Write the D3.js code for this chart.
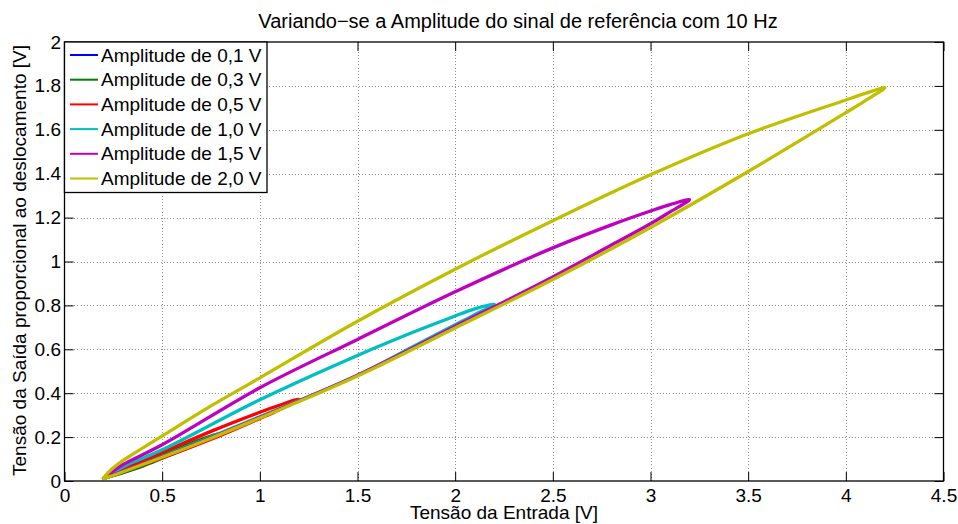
<!DOCTYPE html>
<html>
<head>
<meta charset="utf-8">
<script src="https://cdn.jsdelivr.net/npm/d3@7"></script>
<style>
  body { margin: 0; background: #fff; }
  text { font-family: "Liberation Sans", Arial, Helvetica, sans-serif; fill: #000; }
</style>
</head>
<body>
<svg id="chart" width="958" height="524"></svg>
<script>
// Hysteresis loops: input voltage (x) vs. displacement-proportional output (y).
// Each loop = rising branch up to the turning point, then the returning branch, points as [x, y].
const amplitudeLabels = ["Amplitude de 0,1 V", "Amplitude de 0,3 V", "Amplitude de 0,5 V",
                         "Amplitude de 1,0 V", "Amplitude de 1,5 V", "Amplitude de 2,0 V"];

const loop01 = [
  [0.20, 0.012], [0.30, 0.040], [0.40, 0.071],
  [0.30, 0.046], [0.20, 0.012]
];
const loop03 = [
  [0.20, 0.012], [0.40, 0.068], [0.50, 0.104], [0.60, 0.140], [0.70, 0.178], [0.80, 0.220],
  [0.70, 0.190], [0.60, 0.155], [0.50, 0.120], [0.40, 0.082], [0.20, 0.012]
];
const loop05 = [
  [0.20, 0.012], [0.50, 0.105], [0.75, 0.190], [1.00, 0.285], [1.10, 0.325], [1.20, 0.373],
  [1.10, 0.345], [1.00, 0.313], [0.75, 0.226], [0.50, 0.130], [0.30, 0.055], [0.20, 0.012]
];
const loop10 = [
  [0.20, 0.012], [0.50, 0.112], [1.00, 0.293], [1.50, 0.482], [1.80, 0.620], [2.00, 0.712], [2.10, 0.758], [2.20, 0.806],
  [2.10, 0.784], [2.00, 0.752], [1.80, 0.683], [1.50, 0.572], [1.00, 0.370], [0.50, 0.142],
  [0.30, 0.065], [0.24, 0.035], [0.20, 0.012]
];
const loop15 = [
  [0.20, 0.012], [0.30, 0.045], [0.50, 0.110], [1.00, 0.290], [1.50, 0.482], [2.00, 0.705],
  [2.50, 0.930], [2.80, 1.075], [3.00, 1.172], [3.10, 1.226], [3.20, 1.282],
  [3.10, 1.259], [3.00, 1.230], [2.80, 1.167], [2.50, 1.062], [2.00, 0.862], [1.50, 0.645],
  [1.00, 0.425], [0.50, 0.165], [0.30, 0.075], [0.24, 0.040], [0.20, 0.012]
];
const loop20 = [
  [0.20, 0.010], [0.30, 0.042], [0.50, 0.108], [0.75, 0.195], [1.00, 0.287], [1.50, 0.478],
  [2.00, 0.697], [2.50, 0.918], [3.00, 1.155], [3.50, 1.410], [4.00, 1.678], [4.10, 1.733], [4.20, 1.792],
  [4.10, 1.766], [4.00, 1.736], [3.50, 1.582], [3.00, 1.395], [2.50, 1.186], [2.00, 0.965],
  [1.50, 0.728], [1.00, 0.470], [0.75, 0.342], [0.50, 0.205], [0.35, 0.122],
  [0.30, 0.094], [0.25, 0.060], [0.21, 0.025], [0.20, 0.010]
];

const loops = [loop01, loop03, loop05, loop10, loop15, loop20];
const lineColors = ["#0000ff", "#008000", "#ff0000", "#00bfbf", "#bf00bf", "#bfbf00"];

const xTicks = [0, 0.5, 1, 1.5, 2, 2.5, 3, 3.5, 4, 4.5];
const yTicks = [0, 0.2, 0.4, 0.6, 0.8, 1, 1.2, 1.4, 1.6, 1.8, 2];

const titleText = "Variando\u2212se a Amplitude do sinal de referência com 10 Hz";
const xLabel = "Tensão da Entrada [V]";
const yLabel = "Tensão da Saída proporcional ao deslocamento [V]";

// Layout
const W = 958, H = 524;
const plot = { left: 64.5, right: 943.5, top: 42, bottom: 481 };
const fontSize = 19;
const tickLen = 9;

const svg = d3.select("#chart");
svg.append("rect").attr("width", W).attr("height", H).attr("fill", "#fff");

const x = d3.scaleLinear().domain([0, 4.5]).range([plot.left, plot.right]);
const y = d3.scaleLinear().domain([0, 2]).range([plot.bottom, plot.top]);
const fmt = d3.format("~g");

// Dotted grid
const grid = svg.append("g").attr("stroke", "#8c8c8c").attr("stroke-width", 1)
  .attr("stroke-dasharray", "1,2.2").attr("shape-rendering", "crispEdges");
grid.selectAll(".gx").data(xTicks.slice(1, -1)).join("line")
  .attr("x1", d => Math.round(x(d)) + 0.5).attr("x2", d => Math.round(x(d)) + 0.5)
  .attr("y1", plot.top).attr("y2", plot.bottom);
grid.selectAll(".gy").data(yTicks.slice(1, -1)).join("line")
  .attr("y1", d => Math.round(y(d)) + 0.5).attr("y2", d => Math.round(y(d)) + 0.5)
  .attr("x1", plot.left).attr("x2", plot.right);

// Loops, smallest amplitude first so the largest sits on top
const line = d3.line().x(d => x(d[0])).y(d => y(d[1])).curve(d3.curveCatmullRom.alpha(0.5));
svg.append("g").selectAll("path").data(loops).join("path")
  .attr("d", line)
  .attr("fill", "none")
  .attr("stroke", (d, i) => lineColors[i])
  .attr("stroke-width", 3.3)
  .attr("stroke-linejoin", "round")
  .attr("stroke-linecap", "round");

// Axes with inward ticks on all four sides
function styleAxis(g) {
  g.select(".domain").remove();
  g.selectAll(".tick line").attr("stroke", "#000").attr("stroke-width", 1);
  g.selectAll(".tick text").attr("font-size", fontSize).attr("font-family", null).attr("fill", "#000");
  g.attr("font-family", null);
}
svg.append("g").attr("transform", `translate(0,${plot.bottom})`)
  .call(d3.axisBottom(x).tickValues(xTicks).tickFormat(fmt).tickSizeInner(-tickLen).tickSizeOuter(0).tickPadding(8))
  .call(styleAxis);
svg.append("g").attr("transform", `translate(0,${plot.top})`)
  .call(d3.axisTop(x).tickValues(xTicks).tickFormat("").tickSizeInner(-tickLen).tickSizeOuter(0))
  .call(styleAxis);
svg.append("g").attr("transform", `translate(${plot.left},0)`)
  .call(d3.axisLeft(y).tickValues(yTicks).tickFormat(fmt).tickSizeInner(-tickLen).tickSizeOuter(0).tickPadding(3.5))
  .call(styleAxis);
svg.append("g").attr("transform", `translate(${plot.right},0)`)
  .call(d3.axisRight(y).tickValues(yTicks).tickFormat("").tickSizeInner(-tickLen).tickSizeOuter(0))
  .call(styleAxis);

// Axes box
svg.append("rect")
  .attr("x", plot.left).attr("y", plot.top)
  .attr("width", plot.right - plot.left).attr("height", plot.bottom - plot.top)
  .attr("fill", "none").attr("stroke", "#000").attr("stroke-width", 1.3);

// Title and axis labels
svg.append("text").attr("x", 518).attr("y", 27.5).attr("text-anchor", "middle")
  .attr("font-size", 20).text(titleText);
svg.append("text").attr("x", (plot.left + plot.right) / 2).attr("y", 519).attr("text-anchor", "middle")
  .attr("font-size", fontSize).text(xLabel);
svg.append("text").attr("transform", `translate(26,${(plot.top + plot.bottom) / 2 - 1}) rotate(-90)`)
  .attr("text-anchor", "middle").attr("font-size", fontSize).text(yLabel);

// Legend
const legend = { x: plot.left, y: plot.top, w: 202.5, h: 150.5, row: 24.7, first: 13 };
const lg = svg.append("g");
lg.append("rect").attr("x", legend.x).attr("y", legend.y).attr("width", legend.w).attr("height", legend.h)
  .attr("fill", "#fff").attr("stroke", "#000").attr("stroke-width", 1.3);
const rows = lg.selectAll("g.row").data(amplitudeLabels).join("g")
  .attr("transform", (d, i) => `translate(${legend.x},${legend.y + legend.first + i * legend.row})`);
rows.append("line").attr("x1", 5.5).attr("x2", 33.5).attr("y1", 0).attr("y2", 0)
  .attr("stroke", (d, i) => lineColors[i]).attr("stroke-width", 2);
rows.append("text").attr("x", 36.5).attr("y", 0).attr("dy", "0.35em")
  .attr("font-size", fontSize).text(d => d);
</script>
</body>
</html>
